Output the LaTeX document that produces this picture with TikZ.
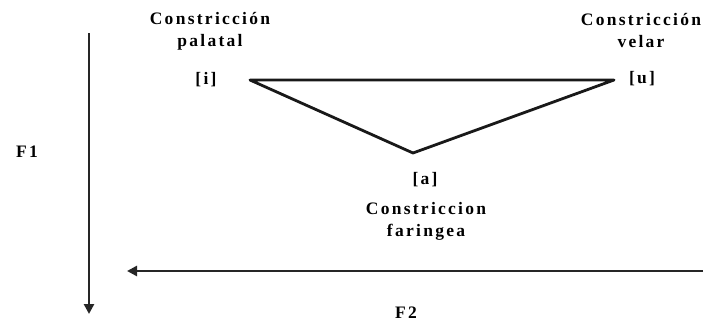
\documentclass[tikz,border=0pt]{standalone}
\usepackage{fontspec}
\setmainfont{Liberation Serif}
\usetikzlibrary{arrows.meta}
\newfontfamily\spacedfont[LetterSpace=13]{Liberation Serif Bold}
\begin{document}
\begin{tikzpicture}[x=1pt,y=-1pt,
  lbl/.style={font=\spacedfont\fontsize{17.5}{22}\selectfont, align=center, inner sep=0pt},
  axis/.style={line width=2.8pt, draw=black!85, -{Triangle[length=10pt,width=10pt]}},
  tri/.style={line width=2.8pt, draw=black!90, line join=round}]
\useasboundingbox (0,0) rectangle (708,324);
% vowels
\coordinate (I) at (250,80);
\coordinate (U) at (614,80);
\coordinate (A) at (413,153);
\draw[tri] (I) -- (U) -- (A) -- cycle;
\node[lbl] (li) at (206,80) {[i]};
\node[lbl] (lu) at (642,79) {[u]};
\node[lbl] (la) at (425,180) {[a]};
\node[lbl] (pal) at (210,31) {Constricción\\palatal};
\node[lbl] (vel) at (641,31) {Constricción\\velar};
\node[lbl] (far) at (426,221) {Constriccion\\faringea};
% axes
\coordinate (v0) at (89,33);
\coordinate (v1) at (89,314);
\draw[axis] (v0) -- (v1);
\coordinate (h0) at (703,271);
\coordinate (h1) at (127,271);
\draw[axis] (h0) -- (h1);
\node[lbl] (f1) at (27,152) {F1};
\node[lbl] (f2) at (406,313) {F2};
\end{tikzpicture}
\end{document}
